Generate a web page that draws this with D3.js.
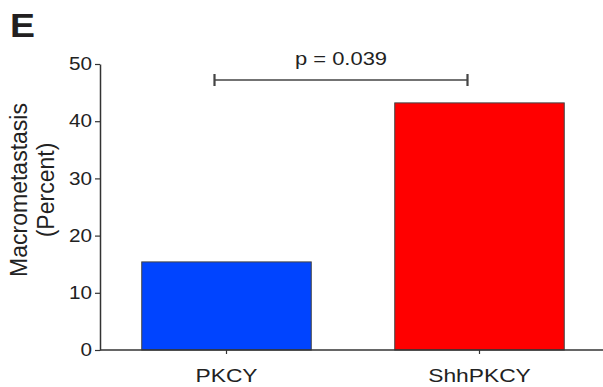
<!DOCTYPE html>
<html>
<head>
<meta charset="utf-8">
<script src="https://cdn.jsdelivr.net/npm/d3@7"></script>
<style>
  html, body { margin: 0; padding: 0; background: #fff; }
  svg { display: block; font-family: "Liberation Sans", Arial, sans-serif; }
</style>
</head>
<body>
<svg id="chart" width="603" height="387"></svg>
<script>
// Percent of mice with macrometastasis per genotype
const categories = ["PKCY", "ShhPKCY"];
const percentValues = [15.4, 43.2];
const barColors = ["#0044ff", "#ff0000"];
const yTicks = [0, 10, 20, 30, 40, 50];
const pLabel = "p = 0.039";

const svg = d3.select("#chart");
const ink = "#222";

// widen glyphs horizontally around each text's own anchor x
function stretch(sel, s) {
  sel.each(function () {
    const t = d3.select(this);
    const ax = +(t.attr("x") || 0);
    t.attr("transform", `translate(${ax},0) scale(${s},1) translate(${-ax},0)`);
  });
}

const x = d3.scaleBand()
  .domain(categories)
  .range([100, 606])
  .paddingInner(0.33)
  .paddingOuter(0.165);

const y = d3.scaleLinear().domain([0, 50]).range([350, 64]);

// bars
svg.append("g").selectAll("rect")
  .data(categories)
  .join("rect")
  .attr("x", d => x(d))
  .attr("y", (d, i) => y(percentValues[i]))
  .attr("width", x.bandwidth())
  .attr("height", (d, i) => y(0) - y(percentValues[i]))
  .attr("fill", (d, i) => barColors[i])
  .attr("stroke", "#444")
  .attr("stroke-width", 1);

// y axis
const yAxis = svg.append("g")
  .attr("transform", "translate(100,0)")
  .call(d3.axisLeft(y).tickValues(yTicks).tickSize(5).tickPadding(3).tickSizeOuter(0));
yAxis.select(".domain").attr("stroke", "#333").attr("stroke-width", 1.5);
yAxis.selectAll(".tick line").attr("stroke", "#333").attr("stroke-width", 1.2);
yAxis.selectAll(".tick text")
  .attr("fill", ink)
  .style("font-size", "18px")
  .call(stretch, 1.15);

// x axis
const xAxis = svg.append("g")
  .attr("transform", "translate(0,350)")
  .call(d3.axisBottom(x).tickSize(4).tickPadding(15).tickSizeOuter(0));
xAxis.select(".domain").attr("d", "M100,0H603").attr("stroke", "#333").attr("stroke-width", 1.5);
xAxis.selectAll(".tick line").attr("stroke", "#333").attr("stroke-width", 1.2);
xAxis.selectAll(".tick text")
  .attr("fill", ink)
  .style("font-size", "19px")
  .call(stretch, 1.2);

// axis title
const title = svg.append("text")
  .attr("transform", "translate(27,190) rotate(-90)")
  .attr("text-anchor", "middle")
  .attr("fill", ink)
  .style("font-size", "23px");
title.append("tspan").attr("x", 0).attr("dy", 0).text("Macrometastasis");
title.append("tspan").attr("x", 0).attr("dy", 27).text("(Percent)");

// significance bracket between the two groups
const bx1 = x("PKCY") + x.bandwidth() / 2 - 12;
const bx2 = x("ShhPKCY") + x.bandwidth() / 2 - 12;
const by = 80;
const bracket = svg.append("g").attr("stroke", "#444");
bracket.append("line").attr("x1", bx1).attr("x2", bx2).attr("y1", by).attr("y2", by).attr("stroke-width", 1.6);
bracket.append("line").attr("x1", bx1).attr("x2", bx1).attr("y1", by - 6).attr("y2", by + 6).attr("stroke-width", 2.2);
bracket.append("line").attr("x1", bx2).attr("x2", bx2).attr("y1", by - 6).attr("y2", by + 6).attr("stroke-width", 2.2);
svg.append("text")
  .attr("x", (bx1 + bx2) / 2)
  .attr("y", 65)
  .attr("text-anchor", "middle")
  .attr("fill", ink)
  .style("font-size", "18px")
  .text(pLabel)
  .call(stretch, 1.22);

// panel letter
svg.append("text")
  .attr("x", 10)
  .attr("y", 37)
  .attr("fill", "#231f20")
  .style("font-size", "34px")
  .style("font-weight", "bold")
  .text("E")
  .call(stretch, 1.1);
</script>
</body>
</html>
